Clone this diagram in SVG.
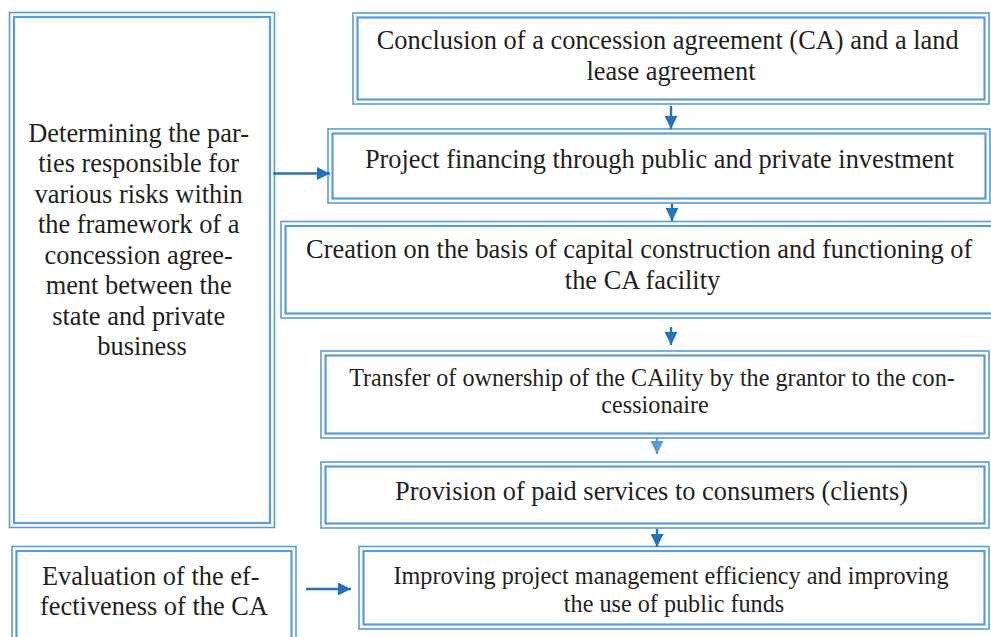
<svg xmlns="http://www.w3.org/2000/svg" width="991" height="637" viewBox="0 0 991 637">
  <defs>
    <marker id="ah" markerUnits="userSpaceOnUse" markerWidth="13" markerHeight="13" refX="13" refY="6.5" orient="auto">
      <path d="M0,0 L13,6.5 L0,13 Z" fill="#2372BA"/>
    </marker>
    <marker id="ahl" markerUnits="userSpaceOnUse" markerWidth="13" markerHeight="13" refX="13" refY="6.5" orient="auto">
      <path d="M0,0 L13,6.5 L0,13 Z" fill="#5B9BD5"/>
    </marker>
  </defs>
  <style>
    .o { fill: none; stroke: #5B9BD5; stroke-width: 1.6; }
    .i { fill: #ffffff; stroke: #5B9BD5; stroke-width: 2.2; }
    .t { font-family: "Liberation Serif", "Times New Roman", serif; font-size: 26.4px; fill: #231F20; text-anchor: middle; }
    .s { font-size: 24.2px; }
    .c { fill: none; stroke: #2372BA; stroke-width: 2.4; }
    .cl { fill: none; stroke: #5B9BD5; stroke-width: 2.4; }
  </style>
  <rect width="991" height="637" fill="#ffffff"/>

  <g id="risks">
    <rect class="o" x="9.5" y="12.5" width="265" height="515"/>
    <rect class="i" x="14" y="17" width="256" height="506"/>
    <text class="t">
      <tspan x="142" y="141.5">Determining the par-</tspan>
      <tspan x="142" y="172">ties responsible for</tspan>
      <tspan x="142" y="202.5">various risks within</tspan>
      <tspan x="142" y="233">the framework of a</tspan>
      <tspan x="142" y="263.5">concession agree-</tspan>
      <tspan x="142" y="294">ment between the</tspan>
      <tspan x="142" y="324.5">state and private</tspan>
      <tspan x="142" y="355">business</tspan>
    </text>
  </g>

  <g id="conclusion">
    <rect class="o" x="353" y="13" width="636" height="91"/>
    <rect class="i" x="357.5" y="17.5" width="627" height="82"/>
    <text class="t">
      <tspan x="671" y="49">Conclusion of a concession agreement (CA) and a land</tspan>
      <tspan x="671" y="80">lease agreement</tspan>
    </text>
  </g>

  <g id="financing">
    <rect class="o" x="328" y="129" width="662" height="74"/>
    <rect class="i" x="332.5" y="133.5" width="653" height="65"/>
    <text class="t" x="659.5" y="168">Project financing through public and private investment</text>
  </g>

  <g id="creation">
    <rect class="o" x="281" y="221.5" width="730" height="96.5"/>
    <rect class="i" x="285.5" y="226" width="721" height="87.5"/>
    <text class="t">
      <tspan x="642.5" y="258">Creation on the basis of capital construction and functioning of</tspan>
      <tspan x="642.5" y="289">the CA facility</tspan>
    </text>
  </g>

  <g id="transfer">
    <rect class="o" x="321" y="351" width="668" height="87"/>
    <rect class="i" x="325.5" y="355.5" width="659" height="78"/>
    <text class="t s">
      <tspan x="655" y="386">Transfer of ownership of the CAility by the grantor to the con-</tspan>
      <tspan x="655" y="413">cessionaire</tspan>
    </text>
  </g>

  <g id="provision">
    <rect class="o" x="321" y="462" width="668" height="66"/>
    <rect class="i" x="325.5" y="466.5" width="659" height="57"/>
    <text class="t" x="651.5" y="500">Provision of paid services to consumers (clients)</text>
  </g>

  <g id="improving">
    <rect class="o" x="359" y="546.5" width="630" height="82.5"/>
    <rect class="i" x="363.5" y="551" width="621" height="73.5"/>
    <text class="t s">
      <tspan x="674" y="584">Improving project management efficiency and improving</tspan>
      <tspan x="674" y="612">the use of public funds</tspan>
    </text>
  </g>

  <g id="evaluation">
    <rect class="o" x="12" y="546.5" width="284" height="100"/>
    <rect class="i" x="16.5" y="551" width="275" height="91"/>
    <text class="t">
      <tspan x="154" y="585">Evaluation of the ef-</tspan>
      <tspan x="154" y="615">fectiveness of the CA</tspan>
    </text>
  </g>

  <g id="connectors">
    <line class="c" x1="671" y1="106" x2="671" y2="129" marker-end="url(#ah)"/>
    <line class="c" x1="672" y1="204" x2="672" y2="221" marker-end="url(#ah)"/>
    <line class="c" x1="671" y1="327" x2="671" y2="345" marker-end="url(#ah)"/>
    <line class="cl" x1="657" y1="437" x2="657" y2="454" marker-end="url(#ahl)"/>
    <line class="c" x1="657" y1="529" x2="657" y2="547" marker-end="url(#ah)"/>
    <line class="c" x1="273" y1="173.5" x2="330" y2="173.5" marker-end="url(#ah)"/>
    <line class="c" x1="306" y1="589" x2="351" y2="589" marker-end="url(#ah)"/>
  </g>
</svg>
